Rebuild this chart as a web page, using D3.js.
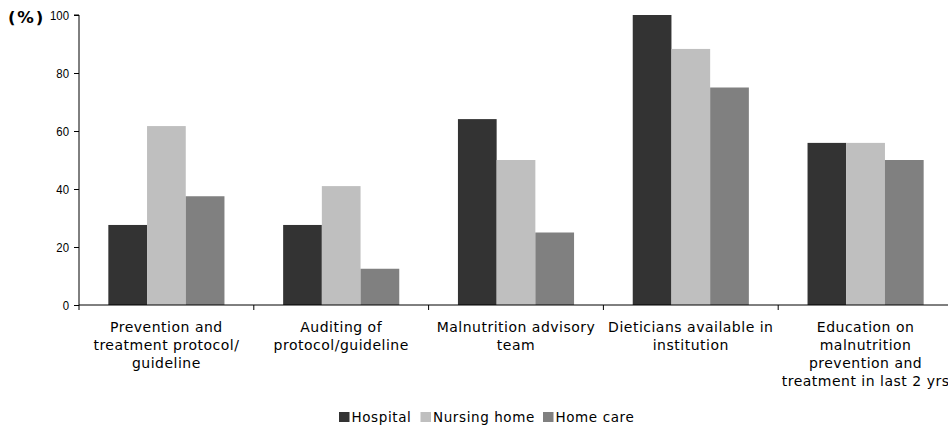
<!DOCTYPE html>
<html><head><meta charset="utf-8">
<script src="https://cdn.jsdelivr.net/npm/d3@7"></script>
<style>body{margin:0;background:#fff}svg{display:block}</style>
</head><body>
<script>
const categories = [
  ["Prevention and","treatment protocol/","guideline"],
  ["Auditing of","protocol/guideline"],
  ["Malnutrition advisory","team"],
  ["Dieticians available in","institution"],
  ["Education on","malnutrition","prevention and","treatment in last 2 yrs"]
];
const seriesNames = ["Hospital","Nursing home","Home care"];
const hospital = [27.6, 27.6, 64.1, 100, 55.9];
const nursingHome = [61.7, 41.0, 50, 88.3, 55.9];
const homeCare = [37.5, 12.5, 25, 75, 50];
const yTicks = [0,20,40,60,80,100];
const colors = ["#333333","#bfbfbf","#808080"];
const seriesVals = [hospital, nursingHome, homeCare];

const W=948,H=429;
const svg=d3.select("body").append("svg").attr("width",W).attr("height",H);
const x0=79, bandW=174.8;
const x=d3.scaleBand().domain(d3.range(categories.length)).range([x0,x0+bandW*categories.length]).paddingInner(0).paddingOuter(0);
const y=d3.scaleLinear().domain([0,100]).range([305,15]);
const inner=d3.scaleBand().domain(d3.range(3)).range([0,x.bandwidth()]).paddingInner(0).paddingOuter(0.758);

// bars
seriesVals.forEach((vals,si)=>{
  svg.append("g").selectAll("rect").data(vals).join("rect")
    .attr("x",(d,i)=>x(i)+inner(si))
    .attr("width",inner.bandwidth())
    .attr("y",d=>y(d))
    .attr("height",d=>y(0)-y(d))
    .attr("fill",colors[si]);
});

// y axis
const ya=svg.append("g").attr("transform",`translate(${x0},0)`)
  .call(d3.axisLeft(y).tickValues(yTicks).tickSize(5).tickPadding(5));
ya.select(".domain").attr("d",`M-5,${y(100)}H0V${y(0)}`).attr("stroke","#000");
ya.selectAll(".tick line").attr("stroke","#000");
const sx=0.95;
ya.selectAll(".tick text").attr("font-family","Liberation Sans, Arial, sans-serif").attr("font-size","12px").attr("fill","#000")
  .attr("transform",`scale(${sx},1)`).attr("x",-10/sx).attr("dy","0.35em");

// x axis line
svg.append("line").attr("x1",x0).attr("x2",W).attr("y1",y(0)).attr("y2",y(0)).attr("stroke","#000");
d3.range(categories.length).forEach(i=>{
  svg.append("line").attr("x1",x(i)).attr("x2",x(i)).attr("y1",y(0)).attr("y2",y(0)+5).attr("stroke","#000");
});

// category labels
categories.forEach((lines,i)=>{
  const t=svg.append("text").attr("text-anchor","middle")
    .attr("font-family","DejaVu Sans, Verdana, sans-serif").attr("font-size","14px")
    .attr("letter-spacing","0.5px").attr("fill","#000");
  lines.forEach((l,j)=>{
    t.append("tspan").attr("x",x(i)+x.bandwidth()/2).attr("y",332+j*18).text(l);
  });
});

// y title
svg.append("text").attr("x",8).attr("y",23).attr("font-family","DejaVu Sans, Verdana, sans-serif")
  .attr("font-weight","bold").attr("font-size","16.5px").attr("letter-spacing","1.8px").attr("fill","#000").text("(%)");

// legend
const legX=[339,420.5,543];
seriesNames.forEach((n,i)=>{
  svg.append("rect").attr("x",legX[i]).attr("y",412).attr("width",10.5).attr("height",10).attr("fill",colors[i]);
  svg.append("text").attr("x",legX[i]+12.5).attr("y",421.5).attr("font-family","DejaVu Sans, Verdana, sans-serif")
    .attr("font-size","13.5px").attr("letter-spacing","0.6px").attr("fill","#000").text(n);
});
</script>
</body></html>
